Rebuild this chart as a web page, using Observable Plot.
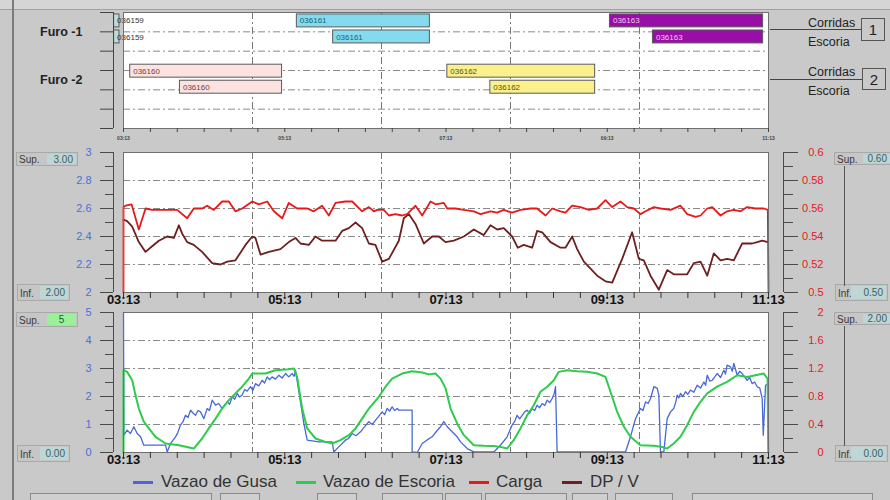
<!DOCTYPE html>
<html>
<head>
<meta charset="utf-8">
<script src="https://cdn.jsdelivr.net/npm/d3@7"></script>
<script src="https://cdn.jsdelivr.net/npm/@observablehq/plot@0.6"></script>
<style>
  html, body { margin: 0; padding: 0; background: #c9c9c9; }
  #root { position: relative; width: 890px; height: 500px; overflow: hidden; background: #c9c9c9;
          font-family: "Liberation Sans", Arial, sans-serif; }
  .abs { position: absolute; }
  .box { position: absolute; border: 1px solid #a9a9a9; background: #c6c6c6; font-size: 10px; color: #3a3a3a; box-sizing: border-box; }
  .box .lab { position: absolute; left: 2px; top: 50%; transform: translateY(-50%); }
  .box .fld { position: absolute; top: 1px; bottom: 1px; right: 1px; background: #bed6d6; color: #3d6161;
              display: flex; align-items: center; justify-content: flex-end; padding-right: 3px; box-sizing: border-box; }
  .leg { position: absolute; font-size: 17px; color: #333; line-height: 20px; }
  .sw { position: absolute; height: 3px; width: 20px; }
  .btn { position: absolute; top: 493px; height: 12px; border: 1px solid #8a8a8a; background: #cfcfcf; box-sizing: border-box; }
</style>
</head>
<body>
<div id="root"></div>
<script>
// ---------------- data ----------------
const timeLabels = ["03:13", "05:13", "07:13", "09:13", "11:13"];
const timeLabelMinutes = [0, 120, 240, 360, 480];
const minorTimeTicks = d3.range(0, 481, 20);
const gridMinutes = [96, 192, 288, 384];

const ganttBars = [
  {run: "036159", furo: 1, tipo: "Corridas", start: "03:06", end: "03:10"},
  {run: "036159", furo: 1, tipo: "Escoria",  start: "03:06", end: "03:10"},
  {run: "036161", furo: 1, tipo: "Corridas", start: "05:22", end: "07:01"},
  {run: "036161", furo: 1, tipo: "Escoria",  start: "05:49", end: "07:01"},
  {run: "036163", furo: 1, tipo: "Corridas", start: "09:15", end: "11:09"},
  {run: "036163", furo: 1, tipo: "Escoria",  start: "09:47", end: "11:09"},
  {run: "036160", furo: 2, tipo: "Corridas", start: "03:18", end: "05:11"},
  {run: "036160", furo: 2, tipo: "Escoria",  start: "03:55", end: "05:11"},
  {run: "036162", furo: 2, tipo: "Corridas", start: "07:14", end: "09:04"},
  {run: "036162", furo: 2, tipo: "Escoria",  start: "07:46", end: "09:04"}
];
const runFill = {"036159": "#bcdcd8", "036160": "#fde2e2", "036161": "#84dbef", "036162": "#fbf08c", "036163": "#9a0ea8"};
const runText = {"036159": "#333333", "036160": "#7a3a3a", "036161": "#1d5f6c", "036162": "#5a5200", "036163": "#f3c6f3"};
const ganttRowLines = [0, 1, 2, 3, 4, 5, 6];

// panel 2 (minutes from 03:13, value on left scale)
const cargaData = [[0,2.0],[0,2.61],[1.5,2.62],[6,2.63],[11.4,2.45],[16.4,2.6],[21.3,2.59],[31.3,2.59],[39.9,2.59],[47.4,2.53],[52.3,2.6],[58.5,2.6],[62.3,2.62],[67.2,2.59],[73.4,2.65],[78.4,2.65],[83.3,2.58],[88.3,2.6],[95.8,2.65],[100.7,2.63],[106.9,2.65],[111.9,2.58],[118.1,2.53],[123,2.64],[129.2,2.6],[136.7,2.6],[141.6,2.58],[147.8,2.62],[152.8,2.55],[157.8,2.64],[165.2,2.65],[170.2,2.65],[177.6,2.58],[182.6,2.61],[186.3,2.58],[188.8,2.59],[193.7,2.59],[197.5,2.55],[202.4,2.56],[207.4,2.55],[211.1,2.56],[217.3,2.62],[222.3,2.55],[228.5,2.65],[232.2,2.63],[238.4,2.64],[240.9,2.6],[247.1,2.6],[253.3,2.59],[260.7,2.58],[265.7,2.56],[273.1,2.58],[278.1,2.57],[283,2.59],[289.2,2.57],[295.4,2.59],[302.9,2.6],[307.8,2.6],[314.1,2.55],[319,2.6],[325.2,2.58],[328.9,2.57],[333.9,2.62],[340.1,2.61],[346.3,2.59],[352.5,2.6],[358.7,2.66],[363.7,2.61],[369.9,2.65],[374.8,2.61],[379.8,2.6],[384.7,2.56],[388.5,2.58],[394.7,2.61],[399.6,2.6],[407.1,2.59],[414.5,2.62],[419.5,2.56],[425.7,2.54],[429.4,2.55],[434.4,2.6],[438.1,2.61],[444.3,2.55],[449.2,2.58],[454.2,2.59],[459.2,2.58],[464.1,2.61],[470.3,2.6],[476.5,2.6],[479.5,2.59],[480,2.0]];
const dpvData = [[0,2.52],[2.7,2.51],[6.5,2.47],[11.4,2.36],[16.4,2.29],[21.3,2.33],[26.3,2.37],[32.5,2.4],[37.5,2.39],[41.2,2.48],[43.7,2.42],[47.4,2.36],[52.3,2.34],[58.5,2.29],[66,2.21],[72.2,2.2],[77.2,2.22],[83.3,2.23],[90.8,2.34],[95.8,2.4],[98.2,2.39],[102,2.27],[108.2,2.29],[116.8,2.31],[123,2.36],[128,2.39],[131.7,2.35],[137.9,2.34],[142.9,2.4],[147.8,2.37],[157.8,2.37],[162.7,2.44],[167.7,2.46],[172.7,2.5],[177.6,2.46],[182.6,2.35],[187.5,2.34],[192.5,2.22],[197.5,2.24],[204.9,2.37],[208.6,2.53],[212.3,2.56],[217.3,2.49],[223.5,2.35],[229.7,2.4],[234.7,2.4],[239.6,2.36],[245.8,2.37],[253.3,2.4],[260.7,2.45],[268.1,2.41],[273.1,2.48],[278.1,2.45],[283,2.46],[289.2,2.4],[293.4,2.32],[297.9,2.34],[304.1,2.32],[307.8,2.44],[311.6,2.43],[317.8,2.36],[325.2,2.32],[328.9,2.32],[333.9,2.4],[337.6,2.31],[342.6,2.22],[352.5,2.12],[358.7,2.08],[363.7,2.07],[371.1,2.24],[378.5,2.43],[383.5,2.24],[387.2,2.23],[392.2,2.12],[398.4,2.02],[404.6,2.16],[409.5,2.13],[419.5,2.13],[424.4,2.21],[429.4,2.22],[434.4,2.12],[439.3,2.28],[444.3,2.23],[449.2,2.24],[454.2,2.23],[460.4,2.35],[467.8,2.35],[471.6,2.36],[475.3,2.37],[479.5,2.36]];

// panel 3 (minutes from 03:13, value on left scale)
const gusaData = [[0,5],[0.3,0.62],[2.7,0.8],[5.2,0.68],[7.7,0.92],[10.2,0.68],[12.7,0.56],[15.1,0.26],[31.3,0.26],[32.5,0.02],[35,0.32],[38.7,0.56],[40.5,0.72],[42.4,0.98],[44.3,1.1],[46.1,1.33],[48,1.25],[49.9,1.51],[51.5,1.42],[53.6,1.33],[55.5,1.5],[57.3,1.45],[59.8,1.21],[62.3,1.57],[64,1.5],[66,1.87],[68.5,1.69],[70.9,1.75],[73.4,1.57],[75.3,1.7],[77.2,1.81],[79,1.72],[80.9,1.99],[82.8,1.9],[84.6,2.11],[86.4,1.98],[88.3,2.05],[90.2,2.25],[92,2.19],[94.5,2.35],[96.3,2.22],[98.2,2.46],[100.7,2.38],[103.2,2.58],[105,2.48],[106.9,2.7],[108.8,2.6],[110.6,2.7],[113,2.62],[115.6,2.76],[118,2.66],[120.6,2.82],[123,2.7],[125.5,2.82],[127,2.72],[128,2.94],[134.2,1.04],[136.7,0.44],[145.4,0.38],[155.3,0.38],[156.5,0.02],[160.2,0.2],[165.2,0.44],[167.5,0.5],[170.2,0.68],[173,0.6],[176.4,0.74],[179,0.9],[182.6,1.1],[185,1.0],[187.5,1.15],[190,1.3],[192.5,1.45],[194.3,1.35],[196.2,1.57],[198,1.48],[199.9,1.63],[201.8,1.5],[203.7,1.57],[204.9,1.51],[214.8,1.51],[214.8,0.02],[218.6,0.0],[222.3,0.32],[226,0.45],[229.7,0.56],[232.8,0.75],[235.9,0.92],[238.4,1.1],[240.9,0.92],[244.6,0.74],[248.3,0.56],[250.8,0.38],[255.8,0.14],[260.7,0.02],[275.6,0.02],[280.5,0.26],[285.5,0.56],[289.2,0.98],[291,1.1],[292.9,1.33],[294.8,1.2],[296.7,1.33],[298.5,1.45],[300.4,1.51],[302.3,1.4],[304.1,1.57],[306,1.5],[307.8,1.69],[309.7,1.6],[311.6,1.75],[313.5,1.68],[315.3,1.87],[317.2,1.78],[319,1.93],[320.5,2.1],[321.5,2.35],[322.7,0.02],[373.6,0.02],[377.3,0.56],[379.2,0.9],[381.1,1.21],[383,1.4],[384.7,1.57],[386.6,1.5],[388.5,1.81],[390.4,1.75],[392.2,1.93],[394.7,2.35],[397.2,2.29],[398.4,2.05],[399.6,0.02],[402.1,0.02],[404.6,1.21],[407.1,1.45],[409.5,1.57],[411,1.8],[412,2.05],[413.2,1.95],[414.5,2.11],[416.3,2.0],[418.2,2.17],[420,2.08],[421.9,2.23],[424.4,2.15],[426.9,2.4],[429.4,2.3],[431.9,2.52],[433.2,2.4],[434.4,2.76],[436.3,2.55],[438.1,2.58],[440,2.7],[441.8,2.82],[444.3,2.68],[446.8,2.94],[448,2.8],[449.2,3.12],[451.7,3.06],[453,2.9],[454.2,3.18],[456.7,2.76],[458.5,2.9],[460.4,2.82],[462.2,2.7],[464.1,2.58],[466,2.68],[467.8,2.46],[469.7,2.52],[471.6,2.35],[473.5,2.3],[475.3,1.93],[476.1,0.62],[477.8,2.4],[480,2.46]];
const escoriaData = [[0,0],[0,2.95],[2.7,2.88],[6.5,2.58],[8.9,2.05],[11.4,1.57],[15.1,1.1],[18.9,0.86],[23.8,0.56],[31.3,0.32],[41.2,0.26],[52.3,0.14],[58.5,0.5],[63.5,0.86],[68.5,1.21],[73.4,1.57],[78.4,1.87],[83.3,2.11],[88.3,2.35],[93.3,2.64],[95.8,2.82],[100.7,2.82],[105.7,2.82],[113.1,2.94],[120.6,2.96],[126.8,3.0],[129.2,2.7],[133,1.57],[136.7,0.86],[142.9,0.5],[150.3,0.38],[155.3,0.32],[161.5,0.44],[167.7,0.62],[172.7,0.86],[177.6,1.21],[182.6,1.57],[190,1.99],[195,2.35],[199.9,2.64],[207.4,2.82],[214.8,2.9],[222.3,2.86],[227.2,2.79],[232.2,2.82],[235.9,2.64],[239.6,2.3],[243.4,1.57],[248.3,1.04],[253.3,0.62],[260.7,0.26],[268.1,0.24],[275.6,0.23],[280.5,0.2],[285.5,0.14],[290.4,0.44],[295.4,0.86],[300.4,1.33],[305.3,1.69],[310.3,2.17],[315.3,2.35],[320.2,2.58],[323.9,2.88],[330.1,2.94],[337.6,2.9],[345,2.88],[352.5,2.82],[358.7,2.7],[362.4,2.17],[367.4,1.45],[372.4,0.92],[377.3,0.56],[384.7,0.26],[394.7,0.24],[400.9,0.2],[404.6,0.14],[409.5,0.32],[414.5,0.56],[419.5,0.98],[424.4,1.45],[429.4,1.81],[434.4,2.11],[441.8,2.35],[449.2,2.52],[456.7,2.76],[464.1,2.7],[470.3,2.76],[476.5,2.82],[479.3,2.64],[479.8,0],[480,0]];

// axis ticks and labels
const p2LeftTicks = [2, 2.2, 2.4, 2.6, 2.8, 3];
const p2LeftLabels = ["2", "2.2", "2.4", "2.6", "2.8", "3"];
const p2RightLabels = ["0.5", "0.52", "0.54", "0.56", "0.58", "0.6"];
const p2MinorTicks = [2.1, 2.3, 2.5, 2.7, 2.9];
const p2Grid = [2.2, 2.4, 2.6, 2.8];
const p3LeftTicks = [0, 1, 2, 3, 4, 5];
const p3LeftLabels = ["0", "1", "2", "3", "4", "5"];
const p3RightLabels = ["0", "0.4", "0.8", "1.2", "1.6", "2"];
const p3MinorTicks = [0.5, 1.5, 2.5, 3.5, 4.5];
const p3Grid = [1, 2, 3, 4];

const seriesNames = ["Vazao de Gusa", "Vazao de Escoria", "Carga", "DP / V"];
const seriesColors = ["#4868d8", "#2ecb4c", "#e61a1a", "#6e1f1f"];

// ---------------- helpers ----------------
const root = document.getElementById("root");
const dashDot = "7,3,2,3";
const parseClock = s => { const [h, m] = s.split(":").map(Number); return h * 60 + m - (3 * 60 + 13); };
const laneTop = d => (d.furo === 1 ? 0.1 : 2.7) + (d.tipo === "Escoria" ? 0.83 : 0);
const lab = (ticks, labels) => d => labels[ticks.indexOf(d)] ?? "";
const style = {background: "transparent", overflow: "visible", fontFamily: "Liberation Sans, Arial, sans-serif"};

function place(el, top) {
  const d = document.createElement("div");
  d.className = "abs"; d.style.left = "0px"; d.style.top = top + "px";
  d.append(el); root.append(d);
}
function div(cls, css, html) {
  const d = document.createElement("div");
  d.className = cls; d.style.cssText = css; if (html != null) d.innerHTML = html;
  root.append(d); return d;
}

function timeAxes() {
  return [
    Plot.axisX({ticks: minorTimeTicks, tickSize: 6, tickFormat: () => "", stroke: "#333"}),
    Plot.axisX({ticks: timeLabelMinutes, tickSize: 0, tickPadding: 2, tickFormat: lab(timeLabelMinutes, timeLabels),
                fontSize: 13, fontWeight: "bold", fill: "#111", label: null})
  ];
}
function sideAxes(domain, ticks, leftLabels, rightLabels, minor) {
  return [
    Plot.ruleX([0], {y1: domain[0], y2: domain[1], dx: -10, stroke: "#4a4a4a"}),
    Plot.axisY({ticks, anchor: "left", dx: -10, tickSize: 13, tickPadding: 9, tickFormat: lab(ticks, leftLabels),
                fill: "#4a70d8", stroke: "#4a4a4a", fontSize: 11, label: null}),
    Plot.axisY({ticks: minor, anchor: "left", dx: -10, tickSize: 8, tickFormat: () => "", stroke: "#4a4a4a", label: null}),
    Plot.ruleX([480], {y1: domain[0], y2: domain[1], dx: 15, stroke: "#4a4a4a"}),
    Plot.axisY({ticks, anchor: "right", dx: 15, tickSize: 14, tickPadding: 26, textAnchor: "end", tickFormat: lab(ticks, rightLabels),
                fill: "#e22020", stroke: "#4a4a4a", fontSize: 11, label: null}),
    Plot.axisY({ticks: minor, anchor: "right", dx: 15, tickSize: 9, tickFormat: () => "", stroke: "#4a4a4a", label: null})
  ];
}

// ---------------- gantt panel ----------------
const gantt = Plot.plot({
  width: 890, height: 150, marginLeft: 123, marginRight: 122, marginTop: 12, marginBottom: 22, style,
  x: {domain: [0, 480]}, y: {domain: [0, 6], reverse: true}, color: {type: "identity"},
  marks: [
    Plot.frame({fill: "white"}),
    Plot.ruleY([1, 2, 3, 4, 5], {stroke: "#8a8a8a", strokeDasharray: dashDot}),
    Plot.ruleX(gridMinutes, {stroke: "#777", strokeDasharray: dashDot}),
    Plot.rect(ganttBars, {x1: d => parseClock(d.start), x2: d => parseClock(d.end), y1: laneTop, y2: d => laneTop(d) + 0.67,
                          fill: d => runFill[d.run], stroke: "#5a5a5a", strokeWidth: 1}),
    Plot.text(ganttBars, {x: d => parseClock(d.start), y: d => laneTop(d) + 0.335, text: d => d.run, textAnchor: "start",
                          dx: 3, fontSize: 8, fill: d => runText[d.run]}),
    Plot.frame({stroke: "#707070"}),
    Plot.ruleX([0], {y1: 0, y2: 6, dx: -10, stroke: "#444"}),
    Plot.axisY({ticks: ganttRowLines, anchor: "left", dx: -10, tickSize: 13, tickFormat: () => "", stroke: "#444", label: null}),
    Plot.axisX({ticks: minorTimeTicks, tickSize: 4, tickFormat: () => "", stroke: "#444"}),
    Plot.axisX({ticks: timeLabelMinutes, tickSize: 0, tickPadding: 8, tickFormat: lab(timeLabelMinutes, timeLabels),
                fontSize: 5, fontWeight: "bold", fill: "#444", label: null})
  ]
});
place(gantt, 0);

// ---------------- panel 2 ----------------
const p2 = Plot.plot({
  width: 890, height: 165, marginLeft: 123, marginRight: 122, marginTop: 7, marginBottom: 18, style,
  x: {domain: [0, 480]}, y: {domain: [2, 3]},
  marks: [
    Plot.frame({fill: "white"}),
    Plot.ruleY(p2Grid, {stroke: "#8a8a8a", strokeDasharray: dashDot}),
    Plot.ruleX(gridMinutes, {stroke: "#777", strokeDasharray: dashDot}),
    Plot.line(dpvData, {x: d => d[0], y: d => d[1], stroke: seriesColors[3], strokeWidth: 1.8}),
    Plot.line(cargaData, {x: d => d[0], y: d => d[1], stroke: seriesColors[2], strokeWidth: 1.8}),
    Plot.frame({stroke: "#707070"}),
    ...sideAxes([2, 3], p2LeftTicks, p2LeftLabels, p2RightLabels, p2MinorTicks),
    ...timeAxes()
  ]
});
place(p2, 145);

// ---------------- panel 3 ----------------
const p3 = Plot.plot({
  width: 890, height: 165, marginLeft: 123, marginRight: 122, marginTop: 7, marginBottom: 18, style,
  x: {domain: [0, 480]}, y: {domain: [0, 5]},
  marks: [
    Plot.frame({fill: "white"}),
    Plot.ruleY(p3Grid, {stroke: "#8a8a8a", strokeDasharray: dashDot}),
    Plot.ruleX(gridMinutes, {stroke: "#777", strokeDasharray: dashDot}),
    Plot.line(gusaData, {x: d => d[0], y: d => d[1], stroke: seriesColors[0], strokeWidth: 1.3}),
    Plot.line(escoriaData, {x: d => d[0], y: d => d[1], stroke: seriesColors[1], strokeWidth: 2}),
    Plot.frame({stroke: "#707070"}),
    ...sideAxes([0, 5], p3LeftTicks, p3LeftLabels, p3RightLabels, p3MinorTicks),
    ...timeAxes()
  ]
});
place(p3, 305);

// ---------------- decorations (HTML) ----------------
div("abs", "left:0;top:0;width:890px;height:9px;background:#d5d5d5;border-bottom:1px solid #a0a0a0;");
div("abs", "left:12px;top:0;width:2px;height:500px;background:#7c7c7c;");
div("abs", "left:40px;top:25px;font-size:12.5px;font-weight:bold;color:#222;", "Furo -1");
div("abs", "left:40px;top:73px;font-size:12.5px;font-weight:bold;color:#222;", "Furo -2");

div("abs", "left:770px;top:29px;width:91px;height:1px;background:#444;");
div("abs", "left:808px;top:16px;font-size:12.5px;color:#222;", "Corridas");
div("abs", "left:808px;top:35px;font-size:12.5px;color:#222;", "Escoria");
div("abs", "left:861px;top:18px;width:24px;height:23px;border:1px solid #555;box-sizing:border-box;font-size:15px;color:#222;display:flex;align-items:center;justify-content:center;", "1");
div("abs", "left:770px;top:79px;width:92px;height:1px;background:#444;");
div("abs", "left:808px;top:65px;font-size:12.5px;color:#222;", "Corridas");
div("abs", "left:808px;top:84px;font-size:12.5px;color:#222;", "Escoria");
div("abs", "left:862px;top:68px;width:24px;height:22px;border:1px solid #555;box-sizing:border-box;font-size:15px;color:#222;display:flex;align-items:center;justify-content:center;", "2");

function box(left, top, w, h, label, value, fieldLeft, fieldBg, center) {
  const b = div("box", `left:${left}px;top:${top}px;width:${w}px;height:${h}px;`);
  b.innerHTML = `<span class="lab">${label}</span><span class="fld" style="left:${fieldLeft}px;background:${fieldBg};${center ? "justify-content:center;padding-right:0;color:#2d5a2d;" : ""}">${value}</span>`;
}
box(16, 152, 62, 14, "Sup.", "3.00", 30, "#bed6d6");
box(17, 284, 53, 17, "Inf.", "2.00", 22, "#bed6d6");
box(16, 312, 62, 15, "Sup.", "5", 30, "#9bf09b", true);
box(17, 445, 53, 17, "Inf.", "0.00", 22, "#bed6d6");
box(834, 152, 58, 13, "Sup.", "0.60", 28, "#bed6d6");
box(835, 284, 53, 17, "Inf.", "0.50", 15, "#bed6d6");
box(834, 312, 58, 13, "Sup.", "2.00", 28, "#bed6d6");
box(835, 445, 53, 17, "Inf.", "0.00", 15, "#bed6d6");
div("abs", "left:844px;top:166px;width:1px;height:120px;background:#555;");
div("abs", "left:844px;top:326px;width:1px;height:120px;background:#555;");

// legend
const legSw = [133, 296, 469, 562];
const legTx = [161, 323, 496, 590];
seriesNames.forEach((n, i) => {
  div("sw", `left:${legSw[i]}px;top:481px;background:${seriesColors[i]};`);
  div("leg", `left:${legTx[i]}px;top:472px;`, n);
});

// bottom buttons
[[30, 212], [220, 260], [317, 357], [382, 443], [445, 482], [485, 567], [572, 608], [615, 673], [692, 873]]
  .forEach(([a, b]) => div("btn", `left:${a}px;width:${b - a}px;`));
</script>
</body>
</html>
